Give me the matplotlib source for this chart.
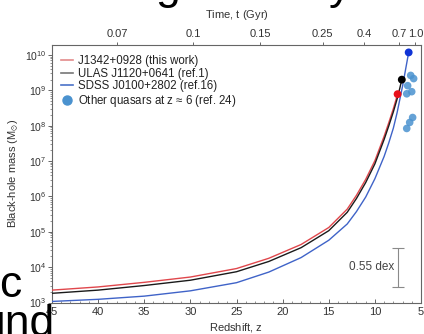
import numpy as np
import matplotlib
matplotlib.use('Agg')
import matplotlib.pyplot as plt
from matplotlib.ticker import MultipleLocator, LogLocator, NullFormatter
from matplotlib.lines import Line2D

plt.rcParams['font.family'] = ['Liberation Sans', 'DejaVu Sans']
plt.rcParams['mathtext.fontset'] = 'custom'
plt.rcParams['mathtext.rm'] = 'Liberation Sans'
plt.rcParams['mathtext.it'] = 'Liberation Sans:italic'
plt.rcParams['mathtext.default'] = 'regular'

# growth tracks: redshift vs log10(M_BH / Msun)
z_red = [45, 40, 35, 30, 25, 21.5, 18, 15, 13, 12, 11, 10, 9, 8.5, 8, 7.54]
logm_red = [3.35, 3.44, 3.57, 3.72, 3.96, 4.25, 4.64, 5.12, 5.64, 6.03, 6.48, 7.01, 7.70, 8.08, 8.48, 8.89]

z_black = [45, 40, 35, 30, 25, 21.5, 18, 15, 13, 12, 11, 10, 9, 8.5, 8, 7.54, 7.3, 7.085]
logm_black = [3.26, 3.35, 3.48, 3.63, 3.87, 4.16, 4.55, 5.03, 5.55, 5.94, 6.39, 6.92, 7.61, 7.99, 8.39, 8.80, 9.06, 9.30]

z_blue = [45, 40, 35, 30, 25, 21.5, 18, 15, 13, 12, 11, 10, 9, 8.5, 8, 7.6, 7.0, 6.34]
logm_blue = [3.03, 3.09, 3.18, 3.33, 3.56, 3.86, 4.27, 4.76, 5.22, 5.57, 5.98, 6.50, 7.13, 7.51, 7.93, 8.36, 9.12, 10.07]

# the three quasars at the end of each track
qso_z = [7.54, 7.085, 6.34]
qso_logm = [8.89, 9.30, 10.07]

# other z~6 quasars
other_z = [6.12, 5.80, 6.45, 6.01, 6.55, 5.91, 6.23, 6.55]
other_logm = [9.42, 9.33, 9.13, 8.96, 8.90, 8.23, 8.09, 7.92]

# top axis ticks (age of the universe, Gyr)
t_ticks = [0.07, 0.1, 0.15, 0.25, 0.4, 0.7, 1.0]
t_labels = ['0.07', '0.1', '0.15', '0.25', '0.4', '0.7', '1.0']

labels = ['J1342+0928 (this work)', 'ULAS J1120+0641 (ref.1)',
          'SDSS J0100+2802 (ref.16)', 'Other quasars at $z$ \u2248 6 (ref. 24)']

err_z = 7.5
err_logm = 4.0
err_dex = 0.55


def t_to_z(t, h0=70.0, om=0.3):
    # flat LCDM, inverse of the age-redshift relation
    ol = 1 - om
    th = 977.8 / h0
    x = np.sinh(1.5 * np.sqrt(ol) * np.asarray(t) / th) * np.sqrt(om / ol)
    return x ** (-2.0 / 3.0) - 1


red = '#e0474c'
black = '#1a1a1a'
blue = '#3f63c8'
light = '#4a92cf'
grey = '#666666'
txt = '#333333'

fig = plt.figure(figsize=(4.24, 3.34), dpi=100)
ax = fig.add_axes([0.1226, 0.0943, 0.8704, 0.771])

ax.plot(z_red, 10 ** np.array(logm_red), color=red, lw=1.0, zorder=3)
ax.plot(z_black, 10 ** np.array(logm_black), color=black, lw=1.0, zorder=3)
ax.plot(z_blue, 10 ** np.array(logm_blue), color=blue, lw=1.0, zorder=3)

ax.scatter(other_z, 10 ** np.array(other_logm), s=30, color=light, alpha=0.85,
           edgecolors='none', zorder=4)
ax.scatter(qso_z, 10 ** np.array(qso_logm), s=32, color=['#e8101a', 'black', '#1034d6'],
           edgecolors='none', zorder=5)

ax.errorbar(err_z, 10 ** err_logm,
            yerr=[[10 ** err_logm - 10 ** (err_logm - err_dex)],
                  [10 ** (err_logm + err_dex) - 10 ** err_logm]],
            color='#8a8a8a', lw=0.8, capsize=4, capthick=0.8)
ax.text(err_z + 0.45, 10 ** err_logm, '0.55 dex', ha='right', va='center',
        fontsize=8.5, color='#444444')

ax.set_yscale('log')
ax.set_xlim(45, 5)
ax.set_ylim(1e3, 10 ** 10.28)
ax.set_yticks([10 ** k for k in range(3, 11)])
ax.yaxis.set_minor_locator(LogLocator(base=10, subs=np.arange(2, 10), numticks=20))
ax.yaxis.set_minor_formatter(NullFormatter())
ax.xaxis.set_major_locator(MultipleLocator(5))
ax.xaxis.set_minor_locator(MultipleLocator(1))

ax.tick_params(axis='x', which='major', direction='in', length=3, width=0.7,
               labelsize=8, colors=grey, labelcolor=txt, pad=3)
ax.tick_params(axis='x', which='minor', direction='in', length=1.8, width=0.5, colors=grey)
ax.tick_params(axis='y', which='major', direction='out', length=3, width=0.7,
               labelsize=7.5, colors=grey, labelcolor=txt, pad=1)
ax.tick_params(axis='y', which='minor', direction='out', length=1.5, width=0.5, colors=grey)

for sp in ax.spines.values():
    sp.set_color(grey)
    sp.set_linewidth(0.8)

ax.set_xlabel('Redshift, $z$', fontsize=8, color=txt, labelpad=3)
ax.set_ylabel('Black-hole mass ($M_{\\odot}$)', fontsize=8, color=txt, labelpad=3)

top = ax.twiny()
top.set_xlim(ax.get_xlim())
top.set_xticks(t_to_z(t_ticks))
top.set_xticklabels(t_labels)
top.tick_params(axis='x', direction='out', length=2.5, width=0.7, labelsize=8,
                colors=grey, labelcolor=txt, pad=2)
for sp in top.spines.values():
    sp.set_visible(False)
top.set_xlabel('Time, $t$ (Gyr)', fontsize=8, color=txt, labelpad=8)

handles = [Line2D([], [], color='#e38b8b', lw=1.2),
           Line2D([], [], color='#777777', lw=1.2),
           Line2D([], [], color='#4a72c8', lw=1.2),
           Line2D([], [], color=light, marker='o', ms=6.5, lw=0)]
ax.legend(handles, labels, loc='upper left', bbox_to_anchor=(0.025, 0.96),
          frameon=False, fontsize=8.3, handlelength=1.0, handletextpad=0.45,
          labelspacing=0.05, borderpad=0, borderaxespad=0, labelcolor='#222222')

# bits of page text around the screenshot
big = dict(fontsize=32, color='black', family='Liberation Sans')
fig.text(-0.003, 0.111, 'c', va='baseline', **big)
fig.text(-0.047, -0.006, 'und', va='baseline', **big)
fig.text(0.366, 1.003, 'g', va='baseline', **big)
fig.text(0.775, 1.003, 'y', va='baseline', **big)

fig.savefig('out.png', dpi=100)
